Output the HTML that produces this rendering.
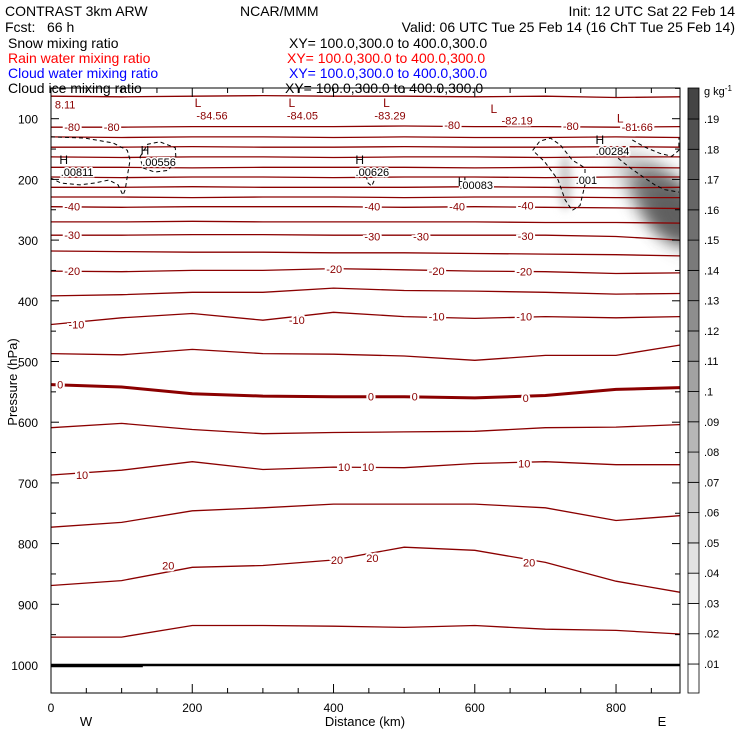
<!DOCTYPE html>
<html><head><meta charset="utf-8">
<style>
html,body{margin:0;padding:0;background:#fff;}
svg{display:block;font-family:"Liberation Sans",sans-serif;}
</style></head>
<body>
<svg id="chart" width="740" height="740" viewBox="0 0 740 740" xmlns="http://www.w3.org/2000/svg">
<defs>
  <clipPath id="plotclip"><rect x="51" y="88" width="629" height="605"/></clipPath>
  <filter id="blur8" x="-50%" y="-50%" width="200%" height="200%"><feGaussianBlur stdDeviation="9"/></filter>
  <filter id="blur4" x="-50%" y="-50%" width="200%" height="200%"><feGaussianBlur stdDeviation="4"/></filter>
</defs>
<g font-size="14">
  <text x="5" y="16">CONTRAST  3km ARW</text>
  <text x="240" y="16">NCAR/MMM</text>
  <text x="735" y="16" text-anchor="end">Init: 12 UTC Sat 22 Feb 14</text>
  <text x="5" y="32" xml:space="preserve">Fcst:   66 h</text>
  <text x="735" y="32" text-anchor="end">Valid: 06 UTC Tue 25 Feb 14 (16 ChT Tue 25 Feb 14)</text>
  <text x="8" y="48">Snow mixing ratio</text>
  <text x="289" y="48">XY= 100.0,300.0 to 400.0,300.0</text>
  <text x="8" y="63" fill="#ff0000">Rain water mixing ratio</text>
  <text x="287" y="63" fill="#ff0000">XY= 100.0,300.0 to 400.0,300.0</text>
  <text x="8" y="78" fill="#0000ff">Cloud water mixing ratio</text>
  <text x="289" y="78" fill="#0000ff">XY= 100.0,300.0 to 400.0,300.0</text>
  <text x="8" y="93">Cloud ice mixing ratio</text>
  <text x="285" y="93">XY= 100.0,300.0 to 400.0,300.0</text>
</g>
<g id="shade" clip-path="url(#plotclip)"></g>
<g id="contours" clip-path="url(#plotclip)"></g>
<g id="ice" clip-path="url(#plotclip)"></g>
<g id="labels" font-size="11"></g>
<g id="axes"></g>
<g id="cbar"></g>
</svg>
<script>
// ---- data ----
const kmSamples = [0,100,200,300,400,500,600,700,800,890];
const tempLevels = [-80,-80,-75,-70,-65,-60,-55,-50,-45,-40,-35,-30,-25,-20,-15,-10,-5,0,5,10,15,20,25];
const tempPressure = [
 [63,64,63,62,63,63,64,63,65,64],
 [114,114,113,113,113,112,113,113,114,113],
 [130,131,130,130,131,130,131,131,130,131],
 [147,147,146,147,147,146,147,147,146,147],
 [163,164,163,163,164,163,163,164,163,163],
 [180,180,181,180,180,180,181,180,180,181],
 [196,197,196,196,197,196,196,197,196,196],
 [213,213,212,213,213,213,212,213,214,213],
 [229,229,230,229,229,230,229,229,230,230],
 [245,246,245,245,245,246,245,246,247,248],
 [270,270,269,270,270,270,270,271,271,272],
 [292,292,291,291,292,292,292,292,294,300],
 [318,319,320,320,321,321,322,323,324,326],
 [351,352,350,350,347,349,351,352,355,354],
 [392,390,386,386,379,383,384,386,389,388],
 [439,428,421,432,419,426,429,426,428,426],
 [487,489,480,487,488,491,498,490,490,473],
 [538,542,553,557,558,558,560,556,546,543],
 [609,602,612,619,617,616,615,609,608,604],
 [687,679,665,678,674,675,668,665,670,670],
 [773,765,746,741,735,735,735,741,762,754],
 [869,861,839,836,827,806,811,831,862,880],
 [954,954,935,935,936,938,935,941,943,949]
];
const labelText = ["8.11","-80","-80","-80","-80","-84.56","-84.05","-83.29","-82.19","-81.66",
 "-40","-40","-40","-40","-30","-30","-30","-30","-20","-20","-20","-20",
 "-10","-10","-10","-10","0","0","0","0","10","10","10","10","20","20","20","20"];
const labelKm = [20,30,86,568,736,228,356,480,660,830,
 30,455,575,672,30,455,524,672,30,401,546,670,
 36,348,546,670,13,453,515,672,44,415,449,670,166,405,455,677];
const labelP = [77,114,114,110,112,95,95,95,103,114,
 245,245,245,243,292,294,294,293,351,348,351,352,
 439,432,426,426,538,558,558,560,687,674,674,668,836,827,824,831];
const markerText = ["L","L","L","L","L","H","H","H","H","H"];
const markerKm = [208,341,475,627,806,18,133,437,582,777];
const markerP = [74,74,74,84,100,168,152,168,204,135];
const iceText = [".00811",".00556",".00626",".00083",".00284",".001"];
const iceKm = [37,153,455,602,795,758];
const iceP = [188,171,188,209,153,201];
const iceContours = [
 {km:[0,48,88,108,112,109,105,102,95,82,62,41,14,0], p:[130,132,140,152,168,188,217,226,209,201,206,209,206,198]},
 {km:[126,137,154,176,177,166,147,130,126], p:[163,142,138,148,168,185,188,181,163]},
 {km:[446,449,454,459], p:[194,206,211,198]},
 {km:[682,692,707,721,738,756,756,749,738,728,718,699,682], p:[152,137,132,143,168,181,209,243,251,234,201,171,152]},
 {km:[823,841,862,879,889,889], p:[135,147,157,162,152,132]},
 {km:[803,820,841,855,869,889], p:[165,181,198,209,217,221]}
];
const blobKm = [835,868,885,728];
const blobP = [200,235,262,205];
const blobVal = [0.06,0.15,0.17,0.05];
const pTicks = [100,200,300,400,500,600,700,800,900,1000];
const kmTicks = [0,200,400,600,800];
const cbarLabels = [".01",".02",".03",".04",".05",".06",".07",".08",".09",".1",".11",".12",".13",".14",".15",".16",".17",".18",".19"];

// ---- scales ----
const X0=51, X1=680, Y0=88, Y1=693;
const xs = km => X0 + km*0.7063;
const yp = p => 665 - (1000-p)*0.607;
const NS="http://www.w3.org/2000/svg";
function mk(tag, parent, attrs){const e=document.createElementNS(NS,tag);for(const k in attrs)e.setAttribute(k,attrs[k]);parent.appendChild(e);return e;}

// shading
const shade=document.getElementById('shade');
const blobRx=[18,24,22,7], blobRy=[34,40,34,28];
blobKm.forEach((k,i)=>{
  const g=Math.round(255-blobVal[i]/0.2*190);
  const e=mk('ellipse',shade,{cx:xs(k),cy:yp(blobP[i]),rx:blobRx[i],ry:blobRy[i],fill:`rgb(${g},${g},${g})`,filter:i==3?'url(#blur4)':'url(#blur8)',transform:i==3?'':`rotate(-40 ${xs(k)} ${yp(blobP[i])})`});
  
  
});

// temperature contours
const cont=document.getElementById('contours');
tempLevels.forEach((t,i)=>{
  const d=kmSamples.map((k,j)=>(j?'L':'M')+xs(k).toFixed(1)+' '+yp(tempPressure[i][j]).toFixed(1)).join(' ');
  const path=mk('path',cont,{d:d,fill:'none',stroke:'#8b0000','stroke-width':t===0?3:1.3});
  
  
});

// cloud ice dashed contours
const ice=document.getElementById('ice');
iceContours.forEach(c=>{
  const d=c.km.map((k,j)=>(j?'L':'M')+xs(k).toFixed(1)+' '+yp(c.p[j]).toFixed(1)).join(' ');
  const path=mk('path',ice,{d:d,fill:'none',stroke:'#000','stroke-width':1,'stroke-dasharray':'4 3'});
  
  
});

// labels
const lab=document.getElementById('labels');
labelText.forEach((s,i)=>{
  const t=mk('text',lab,{x:xs(labelKm[i]),y:yp(labelP[i])+4,'text-anchor':'middle',fill:'#8b0000',stroke:'#fff','stroke-width':4,'paint-order':'stroke'});
  t.textContent=s;
  
  
});
markerText.forEach((s,i)=>{
  const t=mk('text',lab,{x:xs(markerKm[i]),y:yp(markerP[i])+4,'text-anchor':'middle',fill:s==='L'?'#8b0000':'#000','font-size':12});
  t.textContent=s;
  
  
});
iceText.forEach((s,i)=>{
  const t=mk('text',lab,{x:xs(iceKm[i]),y:yp(iceP[i])+4,'text-anchor':'middle',fill:'#000',stroke:'#fff','stroke-width':3,'paint-order':'stroke'});
  t.textContent=s;
  
  
});

// axes
const ax=document.getElementById('axes');
mk('line',ax,{x1:X0,y1:yp(1000),x2:X1,y2:yp(1000),stroke:'#000','stroke-width':2.5});
mk('line',ax,{x1:X0,y1:yp(1000)+1.5,x2:xs(130),y2:yp(1000)+1.5,stroke:'#000','stroke-width':1.5});
const frame=mk('rect',ax,{x:X0,y:Y0,width:X1-X0,height:Y1-Y0,fill:'none',stroke:'#000','stroke-width':1});


for(let p=50;p<=1050;p+=50){
  const y=yp(p); if(y<Y0||y>Y1) continue;
  const L=(p%100===0)?8:5;
  mk('line',ax,{x1:X0,y1:y,x2:X0+L,y2:y,stroke:'#000'});
  mk('line',ax,{x1:X1,y1:y,x2:X1-L,y2:y,stroke:'#000'});
}
for(let k=0;k<=890;k+=50){
  const x=xs(k); const L=(k%200===0)?9:5;
  mk('line',ax,{x1:x,y1:Y1,x2:x,y2:Y1-L,stroke:'#000'});
  mk('line',ax,{x1:x,y1:Y0,x2:x,y2:Y0+L,stroke:'#000'});
}
pTicks.forEach(p=>{
  const t=mk('text',ax,{x:38,y:yp(p)+5,'text-anchor':'end','font-size':12});
  t.textContent=p;
  
  
});
kmTicks.forEach(k=>{
  const t=mk('text',ax,{x:xs(k),y:712,'text-anchor':'middle','font-size':12});
  t.textContent=k;
  
  
});
const yt=mk('text',ax,{x:0,y:0,'font-size':13,'text-anchor':'middle',transform:'translate(17 382) rotate(-90)'});
yt.textContent='Pressure (hPa)';


const xt=mk('text',ax,{x:365,y:726,'font-size':13,'text-anchor':'middle'});
xt.textContent='Distance (km)';


const wl=mk('text',ax,{x:86,y:726,'font-size':13,'text-anchor':'middle'});
wl.textContent='W';


const el=mk('text',ax,{x:662,y:726,'font-size':13,'text-anchor':'middle'});
el.textContent='E';



// colorbar
const cb=document.getElementById('cbar');
const CB0=688, CBW=11, step=(664-119)/18;
const grays=[255,255,255,238,226,214,202,192,182,172,162,152,142,132,122,112,102,92,82,68];
for(let i=0;i<20;i++){
  const yb = i===0?693:664-(i-1)*step;
  const ytop = i===19?88:664-i*step;
  const r=mk('rect',cb,{x:CB0,y:ytop,width:CBW,height:yb-ytop,fill:`rgb(${grays[i]},${grays[i]},${grays[i]})`,stroke:'#000','stroke-width':0.8});
  
  
}
cbarLabels.forEach((s,i)=>{
  const t=mk('text',cb,{x:704,y:664-i*step+4,'font-size':11});
  t.textContent=s;
  
  
});
const u=mk('text',cb,{x:704,y:95,'font-size':11});
u.innerHTML='g kg<tspan dy="-4" font-size="8">-1</tspan>';


</script>
</body></html>
